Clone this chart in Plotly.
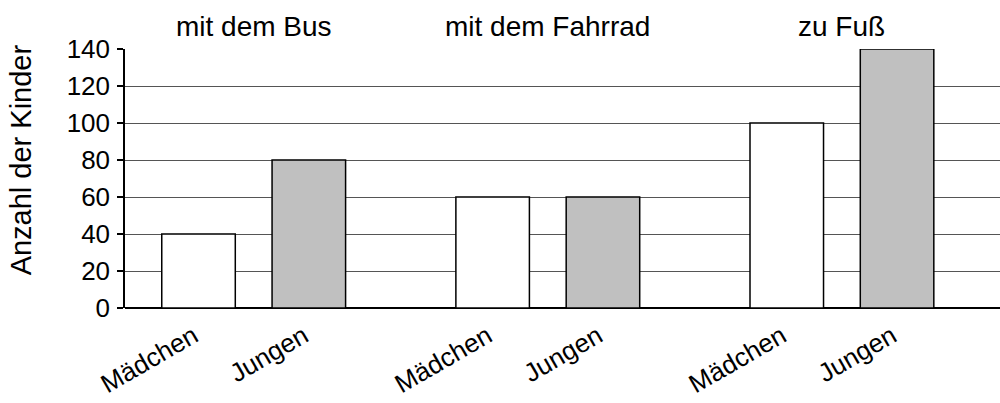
import plotly.graph_objects as go

groups = ["mit dem Bus", "mit dem Fahrrad", "zu Fuß"]
cat_labels = ["Mädchen", "Jungen"]
maedchen = [40, 60, 100]
jungen = [80, 60, 140]
y_ticks = [0, 20, 40, 60, 80, 100, 120, 140]
y_title = "Anzahl der Kinder"

FONT = "Liberation Sans, Arial, sans-serif"
GROUP_STEP = 8
PAIR_GAP = 3
x_m = [i * GROUP_STEP for i in range(len(groups))]
x_j = [i * GROUP_STEP + PAIR_GAP for i in range(len(groups))]

fig = go.Figure()
fig.add_trace(go.Bar(x=x_m, y=maedchen, width=2, name="Mädchen",
                     marker=dict(color="white", line=dict(color="black", width=1.5))))
fig.add_trace(go.Bar(x=x_j, y=jungen, width=2, name="Jungen",
                     marker=dict(color="#c0c0c0", line=dict(color="black", width=1.5))))

tickvals = []
ticktext = []
for a, b in zip(x_m, x_j):
    tickvals += [a, b]
    ticktext += cat_labels

for g, a, b in zip(groups, x_m, x_j):
    fig.add_annotation(x=(a + b) / 2, y=1.0, xref="x", yref="paper", text=g,
                       showarrow=False, yanchor="bottom", yshift=5,
                       font=dict(family=FONT, size=28, color="black"))

fig.add_annotation(x=0, y=0.57, xref="paper", yref="paper", text=y_title,
                   textangle=-90, showarrow=False, xanchor="center", yanchor="middle",
                   xshift=-104, font=dict(family=FONT, size=29, color="black"))

fig.update_layout(
    width=1000, height=403,
    margin=dict(l=125, r=0, t=49, b=95, autoexpand=False),
    paper_bgcolor="white", plot_bgcolor="white",
    showlegend=False,
    font=dict(family=FONT, color="black"),
    xaxis=dict(range=[-2, 21.8], tickvals=tickvals, ticktext=ticktext,
               tickangle=-30, tickfont=dict(size=26, family=FONT),
               ticklabelstandoff=7, ticklabelshift=-5,
               showgrid=False, zeroline=False, showline=False, ticks="",
               automargin=False),
    yaxis=dict(range=[0, 140], tickvals=y_ticks, tickfont=dict(size=26, family=FONT),
               showgrid=True, gridcolor="#555555", gridwidth=1,
               zeroline=True, zerolinecolor="black", zerolinewidth=1.5,
               showline=True, linecolor="black", linewidth=1.5,
               ticks="outside", ticklen=6, tickcolor="black", tickwidth=1.5,
               ticklabelstandoff=2, automargin=False),
)

fig.write_html("out.html", config={"displayModeBar": False},
               post_script="document.body.style.margin='0';")
